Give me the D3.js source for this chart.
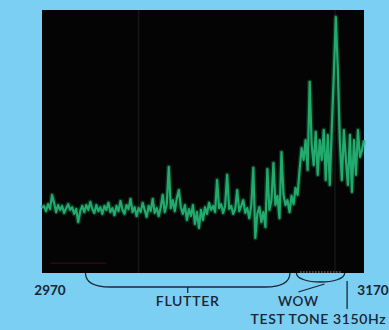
<!DOCTYPE html>
<meta charset="utf-8">
<style>
body { margin: 0; background: #7acff3; overflow: hidden; }
svg { display: block; }
text { font-family: Lato, "Open Sans", sans-serif; fill: #1b2634; }
.trace { fill: none; stroke: #22ab6d; stroke-width: 2.2px; stroke-linejoin: round; }
.glow { fill: none; stroke: #1c9a62; stroke-width: 5px; opacity: 0.3; stroke-linejoin: round; }
.bracket { fill: none; stroke: #1b2634; stroke-width: 1.3px; }
</style>
<body>
<div id="chart"></div>
<script src="https://d3js.org/d3.v7.min.js"></script>
<script>

// sweep bins, 1.25 Hz apart, 2970 .. 3170 Hz
var freqs = d3.range(2970, 3170.01, 1.25);

// level per bin in dB
var levels = [
  -45.2, -44.7, -45.9, -44.3, -45.4, -42.2, -44.0, -46.1, -44.5, -45.6,
  -44.7, -46.3, -45.2, -44.3, -45.6, -45.0, -46.5, -45.4, -48.4, -45.9,
  -44.7, -46.1, -44.5, -45.6, -43.8, -45.4, -46.3, -44.5, -45.9, -45.0,
  -46.5, -44.7, -45.6, -44.0, -46.1, -45.2, -46.8, -44.7, -45.9, -43.6,
  -45.6, -46.5, -44.5, -45.4, -43.1, -46.1, -45.0, -47.0, -45.2, -46.1,
  -44.0, -45.6, -47.2, -44.7, -45.9, -43.1, -46.3, -45.2, -47.0, -45.0,
  -42.2, -46.1, -44.3, -35.8, -45.2, -43.4, -45.9, -42.9, -41.1, -45.0,
  -46.5, -44.5, -47.9, -45.4, -47.0, -44.5, -48.8, -46.1, -49.7, -45.6,
  -47.9, -45.0, -46.5, -44.0, -45.6, -44.7, -46.1, -38.8, -45.2, -44.3,
  -46.3, -44.7, -37.6, -45.4, -44.7, -46.5, -45.4, -41.1, -45.9, -44.7,
  -43.4, -46.3, -45.2, -47.5, -44.5, -36.0, -52.0, -46.5, -45.0, -48.4,
  -46.1, -49.5, -36.3, -45.6, -43.4, -34.9, -44.5, -42.4, -47.5, -32.4,
  -42.2, -44.5, -43.4, -46.1, -42.4, -44.3, -40.6, -42.2, -36.5, -31.5,
  -34.2, -29.7, -36.5, -16.4, -30.8, -35.4, -27.8, -37.6, -29.7, -34.2,
  -27.4, -38.8, -28.5, -39.9, -26.9, -14.8, -1.6, -13.7, -30.0, -38.8,
  -27.4, -34.2, -39.9, -28.5, -41.5, -29.7, -37.6, -27.4, -33.5, -31.9,
  -29.7
];

var axisLabels = ["2970", "3170"];
var flutterBand = [2997, 3124];
var wowBand = [3128, 3158];
var toneMark = 3159.5;

var margin = {top: 10, right: 25, bottom: 57, left: 42},
    width = 389 - margin.left - margin.right,
    height = 330 - margin.top - margin.bottom;

var x = d3.scaleLinear().domain([2970, 3170]).range([0, width]);
var y = d3.scaleLinear().domain([-60, 0]).range([height, 0]);

var svg = d3.select("#chart").append("svg")
    .attr("width", 389)
    .attr("height", 330)
  .append("g")
    .attr("transform", "translate(" + margin.left + "," + margin.top + ")");

// screen
svg.append("rect")
  .attr("width", width).attr("height", height)
  .attr("fill", "#040404");

// faint reticle
svg.selectAll(".ret")
  .data([3030, 3152])
  .enter().append("line")
    .attr("x1", d => x(d)).attr("x2", d => x(d))
    .attr("y1", 0).attr("y2", height)
    .attr("stroke", "#161616").attr("stroke-width", 1.5);

svg.append("line")
  .attr("x1", x(2975)).attr("x2", x(3010))
  .attr("y1", y(-57.8)).attr("y2", y(-57.8))
  .attr("stroke", "#2e080c").attr("stroke-width", 1.5);

var data = freqs.map((f, i) => ({f: f, v: levels[i]}));

var line = d3.line().x(d => x(d.f)).y(d => y(d.v));

svg.append("path").datum(data).attr("class", "glow").attr("d", line);
svg.append("path").datum(data).attr("class", "trace").attr("d", line);

// annotations below the screen
var by = height + 14;

svg.append("path")
  .attr("class", "bracket")
  .attr("d", "M" + x(flutterBand[0]) + "," + height +
    " Q" + x(flutterBand[0]) + "," + by + " " + (x(flutterBand[0]) + 25) + "," + by +
    " L" + (x(flutterBand[1]) - 25) + "," + by +
    " Q" + x(flutterBand[1]) + "," + by + " " + x(flutterBand[1]) + "," + height);

var fmid = x((flutterBand[0] + flutterBand[1]) / 2);
svg.append("line")
  .attr("x1", fmid).attr("x2", fmid)
  .attr("y1", by).attr("y2", by + 6)
  .attr("stroke", "#1b2634").attr("stroke-width", 1.3);

svg.append("path")
  .attr("class", "bracket")
  .attr("d", "M" + x(wowBand[0]) + "," + height +
    " C" + x(wowBand[0]) + "," + (height + 12) + " " + x(wowBand[1]) + "," + (height + 12) + " " + x(wowBand[1]) + "," + height);

svg.append("line")
  .attr("x1", x(wowBand[0]) + 2).attr("x2", x((wowBand[0] + wowBand[1]) / 2) + 4)
  .attr("y1", by + 5).attr("y2", by - 3)
  .attr("stroke", "#1b2634").attr("stroke-width", 1.3);

svg.append("line")
  .attr("x1", x(wowBand[0]) + 4).attr("x2", x(wowBand[1]) - 4)
  .attr("y1", height - 1).attr("y2", height - 1)
  .attr("stroke", "#cfd6da").attr("stroke-width", 1)
  .attr("stroke-dasharray", "1,2");

svg.append("line")
  .attr("x1", x(toneMark)).attr("x2", x(toneMark))
  .attr("y1", height + 8).attr("y2", height + 36)
  .attr("stroke", "#1b2634").attr("stroke-width", 1.3);

svg.append("text")
  .attr("x", x(2970) + 8).attr("y", height + 22)
  .attr("text-anchor", "middle")
  .style("font-size", "13.5px").style("font-weight", "bold")
  .text(axisLabels[0]);

svg.append("text")
  .attr("x", x(3170) + 9).attr("y", height + 22)
  .attr("text-anchor", "middle")
  .style("font-size", "13.5px").style("font-weight", "bold")
  .text(axisLabels[1]);

svg.append("text")
  .attr("x", fmid).attr("y", height + 33)
  .attr("text-anchor", "middle")
  .style("font-size", "14px").style("font-weight", "600")
  .style("letter-spacing", "0.7px")
  .text("FLUTTER");

svg.append("text")
  .attr("x", x(wowBand[0]) + 2).attr("y", height + 33)
  .attr("text-anchor", "middle")
  .style("font-size", "13.5px").style("font-weight", "600")
  .style("letter-spacing", "0.7px")
  .text("WOW");

svg.append("text")
  .attr("x", x(wowBand[0]) + 22).attr("y", height + 51)
  .attr("text-anchor", "middle")
  .style("font-size", "14px").style("font-weight", "600")
  .style("letter-spacing", "0.6px")
  .text("TEST TONE 3150Hz");

</script>
</body>
